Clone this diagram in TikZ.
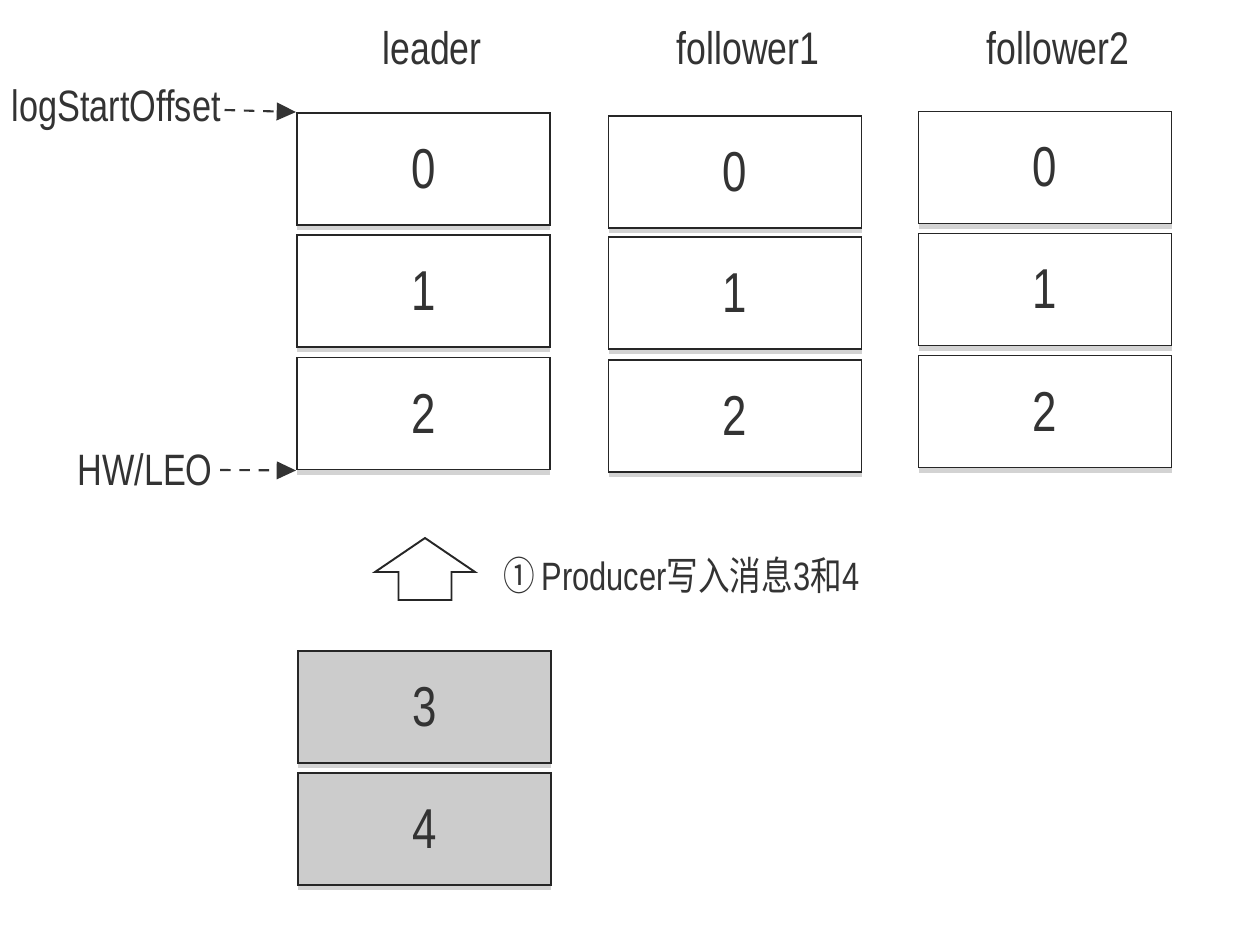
\documentclass[tikz,border=0pt]{standalone}
\usepackage{fontspec}
\setmainfont[FakeStretch=0.78]{Liberation Sans}
\newfontfamily\cjk[FakeStretch=0.8]{Noto Sans CJK SC}
\usetikzlibrary{positioning,arrows.meta,shadows}
\tikzset{
  cellbox/.style={draw=black!85, line width=1.1pt, fill=white, minimum width=5.06cm, minimum height=2.24cm, font=\fontsize{32}{36}\selectfont, text=black!80, drop shadow={shadow xshift=0pt, shadow yshift=-3pt, opacity=0.35}},
  newcell/.style={cellbox, fill=black!20},
  headlabel/.style={font=\fontsize{26}{30}\selectfont, text=black!80},
  offsetlabel/.style={font=\fontsize{25}{30}\selectfont, text=black!80, anchor=east, inner sep=0pt},
  offsetarrow/.style={dash pattern=on 6pt off 5pt, line width=1.2pt, black!80, -{Triangle[length=11pt,width=10pt]}},
  blockarrow/.style={draw=black!85, line width=1.1pt, fill=white, line join=miter}
}
\begin{document}
\begin{tikzpicture}
  \useasboundingbox (0,0) rectangle (24.8,18.72);
  % replica headers
  \node[headlabel] (hleader) at (8.64,17.76) {leader};
  \node[headlabel] (hf1) at (14.96,17.76) {follower1};
  \node[headlabel] (hf2) at (21.16,17.76) {follower2};
  % leader log
  \node[cellbox] (l0) at (8.47,15.34) {0};
  \node[cellbox] (l1) at (8.47,12.90) {1};
  \node[cellbox] (l2) at (8.47,10.45) {2};
  % follower1 log
  \node[cellbox] (fa0) at (14.70,15.28) {0};
  \node[cellbox] (fa1) at (14.70,12.86) {1};
  \node[cellbox] (fa2) at (14.70,10.40) {2};
  % follower2 log
  \node[cellbox] (fb0) at (20.90,15.37) {0};
  \node[cellbox] (fb1) at (20.90,12.93) {1};
  \node[cellbox] (fb2) at (20.90,10.49) {2};
  % messages written by the producer
  \node[newcell] (m3) at (8.49,4.58) {3};
  \node[newcell] (m4) at (8.49,2.14) {4};
  % offsets
  \node[offsetlabel] (lso) at (4.42,16.52) {logStartOffset};
  \node[offsetlabel] (hw) at (4.26,9.32) {HW/LEO};
  \draw[offsetarrow] (lso.east) ++(2pt,0) -- (l0.north west);
  \draw[offsetarrow] (hw.east) ++(4pt,0) -- (l2.south west);
  % write step
  \draw[blockarrow] (8.50,7.96) -- (9.50,7.28) -- (9.03,7.28) -- (9.03,6.72)
    -- (7.97,6.72) -- (7.97,7.28) -- (7.50,7.28) -- cycle;
  \node[anchor=west, font=\fontsize{22.5}{26}\selectfont, text=black!80, inner sep=0pt] (step1) at (10.06,7.22) {{\cjk ①}\,Producer{\cjk 写入消息}3{\cjk 和}4};
\end{tikzpicture}
\end{document}
